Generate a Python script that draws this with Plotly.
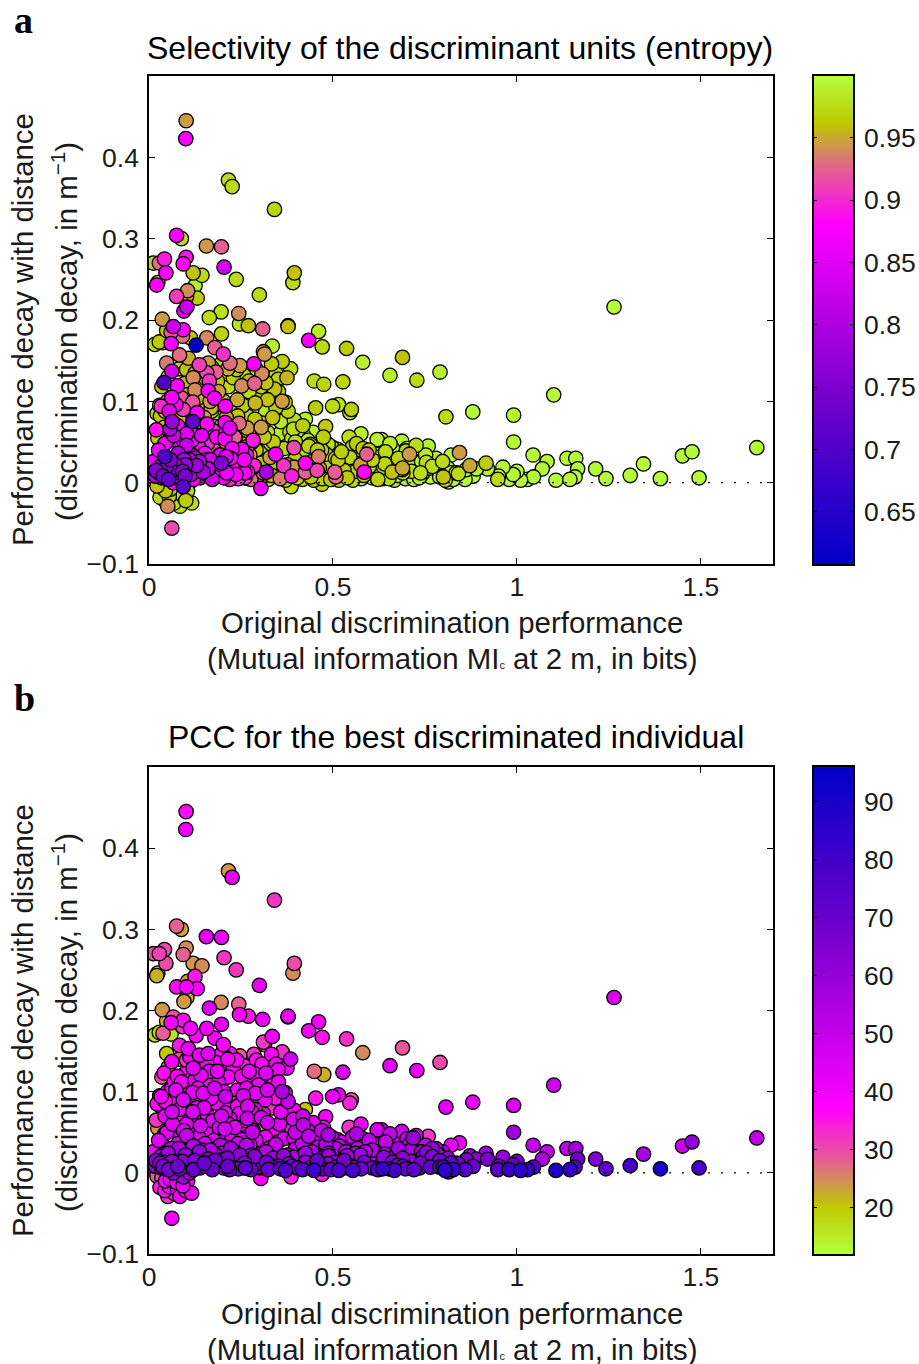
import numpy as np
import plotly.graph_objects as go

x_vals = [
 .101,.100,.216,.226,.341,.075,.088,.156,.197,.012,
 .028,.042,.101,.093,.204,.120,.144,.046,.237,.395,
 .391,.021,.024,.125,.105,.131,.102,.075,.300,.095,
 .103,.196,.164,.244,.246,.270,.309,.378,.378,.036,
 .048,.066,.093,.060,.091,.113,.157,.197,.461,.434,
 .471,.537,.028,.016,.038,.060,.128,.179,.335,.311,
 .581,.689,.655,.728,.791,.449,.475,.527,.314,.362,
 .285,.307,.287,.247,.220,.202,.083,.107,.137,.161,
 .048,.062,.182,.157,.102,.120,.164,.041,.077,.125,
 .161,.211,.229,.252,.345,.375,.385,.341,.297,.265,
 .362,.370,.062,.089,.050,.119,.178,.208,.093,.234,
 .279,.315,.453,.499,.515,.546,.550,.031,.130,.150,
 .210,.280,.336,.063,.119,.310,.395,.425,.020,.057,
 .078,.102,.162,.130,.197,.220,.245,.267,.305,.480,
 .383,.419,.355,.474,.487,.512,.544,.576,.564,.582,
 .627,.632,.655,.687,.718,.759,.708,.732,.754,.689,
 .641,.661,.765,.790,.690,.635,.592,.585,.575,.546,
 .530,.505,.461,.457,.425,.394,.366,.344,.319,.304,
 .388,.386,.470,.281,.252,.206,.197,.230,.260,.210,
 .161,.129,.120,.043,.012,.043,.102,.041,.091,.093,
 .003,.116,.051,.084,.062,.030,.055,.075,.045,.105,
 1.264,1.100,.807,.880,.991,.991,1.044,1.082,1.069,1.136,
 1.160,1.165,1.214,1.242,1.308,1.344,1.390,1.450,1.476,1.495,
 1.652,1.158,1.144,1.106,1.029,1.045,1.010,1.000,.979,.990,
 .948,.962,.950,.916,.920,.872,.890,.881,.859,.841,
 .844,.821,.800,.820,.814,.790,.770,.827,.805,.780,
 .302,.311,.324,.333,.349,.357,.371,.380,.394,.403,
 .417,.425,.440,.448,.463,.471,.486,.494,.508,.516,
 .531,.539,.554,.562,.577,.584,.599,.607,.622,.630,
 .645,.652,.667,.675,.690,.697,.713,.720,.735,.743,
 .306,.329,.350,.376,.397,.423,.443,.469,.488,.514,
 .535,.561,.580,.607,.626,.653,.672,.699,.718,.745,
 .316,.338,.367,.388,.417,.438,.467,.488,.517,.538,
 .567,.588,.617,.638,.667,.688,.717,.738,.763,.785,
 .018,.027,.034,.046,.053,.065,.071,.083,.089,.098,
 .106,.114,.121,.133,.139,.147,.155,.163,.172,.178,
 .186,.195,.203,.211,.219,.228,.236,.243,.252,.261,
 .268,.277,.285,.293,.026,.037,.049,.058,.067,.079,
 .086,.095,.108,.117,.126,.135,.143,.152,.159,.168,
 .176,.184,.192,.201,.209,.217,.226,.234,.242,.251,
 .259,.266,.274,.283,.291,.022,.033,.044,.055,.064,
 .073,.082,.094,.103,.112,.122,.131,.140,.149,.158,
 .166,.174,.183,.191,.200,.207,.216,.224,.233,.241,
 .030,.047,.061,.078,.090,.111,.127,.144,.165,.181,
 .199,.214,.231,.248,.262,.279,.296,.318,.337,.354,
 .024,.041,.056,.070,.087,.101,.118,.137,.156,.170,
 .190,.205,.222,.239,.255,.272,.289,.313,.331,.346,
 .035,.052,.068,.082,.097,.111,.126,.141,.154,.170,
 .186,.199,.214,.238,.258,.272,.292,.318,.333,.351,
 .029,.044,.058,.073,.088,.104,.117,.133,.147,.169,
 .189,.203,.216,.240,.256,.272,.289,.305,.322,.352,
 .268,.288,.322,.345,.358,.378,.393,.405,.418,.432,
 .398,.412,.434,.446,.458,.469,.481,.496,.507,.523,
 .535,.553,.568,.598,.612,.620,.643,.662,.678,.701,
 .712,.726,.741,.752,.770,.783,.798,.812,.835,.862,
 .019,.031,.038,.052,.063,.074,.081,.099,.110,.124,
 .137,.150,.167,.180,.194,.213,.222,.247,.265,.287,
 .035,.043,.058,.068,.078,.092,.100,.110,.022,.066,
]
y_vals = [
 .445,.423,.372,.364,.336,.304,.300,.291,.290,.270,
 .270,.275,.277,.269,.265,.258,.255,.258,.250,.258,
 .246,.243,.246,.242,.236,.227,.229,.229,.231,.211,
 .216,.210,.203,.208,.195,.193,.189,.193,.192,.201,
 .187,.192,.188,.185,.180,.178,.178,.183,.186,.175,
 .167,.165,.173,.170,.172,.171,.169,.166,.168,.161,
 .148,.154,.132,.126,.136,.125,.121,.124,.158,.149,
 .146,.134,.122,.144,.147,.158,.157,.153,.145,.147,
 .147,.137,.136,.135,.139,.129,.125,.123,.119,.114,
 .113,.134,.129,.119,.134,.129,.140,.115,.108,.104,
 .100,.099,.105,.104,.100,.099,.104,.094,.090,.089,
 .089,.090,.092,.094,.096,.086,.090,.082,.080,.080,
 .080,.075,.080,.075,.075,.073,.077,.078,.065,.066,
 .070,.060,.067,.070,.070,.067,.073,.067,.068,.069,
 .062,.059,.060,.056,.047,.041,.056,.060,.048,.042,
 .047,.053,.048,.051,.043,.045,.035,.034,.025,.018,
 .023,.013,.007,.007,.008,.005,.035,.013,.022,.031,
 .015,.013,.032,.015,.024,.043,.021,.035,.013,-.007,
 .008,-.005,-.002,.050,.041,.054,.024,.025,.012,.032,
 .017,.021,.033,.032,.026,.048,.046,.013,.014,-.005,
 .005,-.025,-.029,-.029,-.056,-.018,-.017,-.012,-.010,-.010,
 .216,.108,.081,.087,.083,.050,.034,.026,.017,.030,
 .030,.017,.017,.005,.009,.023,.005,.033,.038,.006,
 .043,.007,.004,.003,.004,.007,.003,.014,.004,.010,
 .004,.019,.008,.024,.017,.021,.017,.008,.004,.011,
 .037,.034,.007,.012,.001,.015,.020,.004,.003,.030,
 .006,.012,.004,.009,.016,.005,.003,.011,.019,.006,
 .004,.013,.007,.003,.018,.005,.011,.004,.007,.003,
 .012,.006,.003,.014,.005,.009,.020,.006,.004,.010,
 .016,.005,.003,.009,.012,.005,.014,.004,.006,.011,
 .024,.031,.038,.022,.029,.034,.026,.040,.021,.028,
 .036,.024,.033,.028,.037,.030,.022,.039,.027,.020,
 .044,.050,.042,.054,.036,.047,.040,.024,.033,.021,
 .030,.026,.035,.019,.028,.016,.025,.012,.018,.024,
 .008,.012,.006,.018,.004,.011,.022,.005,.016,.008,
 .025,.010,.004,.018,.006,.013,.028,.008,.004,.016,
 .009,.022,.006,.012,.004,.024,.010,.005,.017,.006,
 .013,.004,.021,.007,.040,.022,.050,.028,.058,.036,
 .045,.028,.038,.052,.030,.044,.058,.036,.048,.026,
 .040,.056,.034,.046,.062,.030,.042,.054,.036,.048,
 .028,.044,.034,.052,.040,.085,.094,.070,.088,.060,
 .096,.078,.052,.091,.066,.102,.086,.058,.093,.072,
 .100,.064,.086,.056,.096,.074,.060,.090,.056,.082,
 .012,.020,.030,.008,.024,.018,.010,.028,.012,.022,
 .016,.008,.020,.014,.006,.022,.012,.026,.018,.008,
 .055,.068,.080,.094,.063,.085,.072,.098,.059,.088,
 .052,.062,.058,.048,.052,.060,.044,.056,.048,.042,
 .118,.130,.112,.140,.122,.143,.135,.120,.128,.142,
 .125,.148,.140,.139,.132,.125,.139,.123,.146,.127,
 .095,.088,.098,.102,.112,.108,.116,.104,.098,.092,
 .112,.100,.118,.102,.095,.112,.098,.118,.102,.112,
 .082,.078,.062,.092,.075,.088,.066,.056,.070,.052,
 .050,.038,.045,.062,.040,.052,.035,.044,.030,.038,
 .026,.044,.034,.040,.032,.053,.038,.042,.030,.042,
 .028,.046,.026,.034,.030,.023,.026,.018,.012,.016,
 .015,.020,.008,.024,.014,.020,.030,.022,.028,.015,
 .026,.012,.028,.015,.034,.018,.030,.022,.034,.020,
 -.006,-.022,-.008,-.025,-.020,-.016,-.022,.000,-.004,.000,
]
entropy_vals = [
 .945,.880,.975,.975,.970,.875,.975,.945,.925,.975,
 .930,.895,.890,.885,.840,.960,.975,.880,.975,.960,
 .975,.880,.970,.990,.940,.965,.945,.910,.975,.850,
 .830,.980,.975,.940,.980,.960,.925,.960,.960,.945,
 .960,.830,.880,.920,.930,.960,.940,.970,.985,.875,
 .975,.965,.965,.975,.975,.870,.610,.925,.990,.945,
 .990,.960,.990,.975,.990,.975,.970,.970,.945,.965,
 .875,.940,.925,.945,.930,.905,.930,.950,.910,.945,
 .935,.840,.925,.915,.960,.940,.905,.700,.880,.940,
 .875,.965,.965,.940,.975,.955,.975,.960,.975,.975,
 .945,.965,.875,.920,.945,.920,.875,.875,.910,.975,
 .975,.985,.965,.975,.980,.975,.965,.960,.925,.950,
 .950,.970,.960,.780,.720,.965,.975,.990,.890,.800,
 .870,.850,.945,.920,.985,.855,.930,.945,.945,.965,
 .975,.985,.985,.965,.975,.990,.975,.990,.965,.965,
 .990,.990,.985,.990,.990,.990,.945,.990,.975,.950,
 .970,.960,.995,.985,.990,.975,.925,.885,.945,.970,
 .965,.925,.935,.915,.875,.915,.905,.875,.795,.870,
 .895,.975,.970,.940,.875,.875,.750,.870,.875,.850,
 .820,.780,.820,.700,.875,.875,.820,.770,.760,.710,
 .975,.975,.940,.975,.915,.975,.965,.975,.960,.970,
 .997,.996,.975,.995,.990,.995,.995,.995,.995,.995,
 .995,.995,.995,.997,.997,.997,.997,.995,.995,.995,
 .997,.995,.995,.997,.995,.995,.995,.995,.995,.995,
 .975,.995,.995,.965,.990,.950,.990,.995,.995,.975,
 .945,.995,.960,.990,.995,.995,.975,.995,.975,.985,
 .962,.925,.970,.955,.965,.935,.975,.960,.945,.965,
 .970,.925,.962,.970,.945,.965,.975,.962,.930,.970,
 .975,.965,.975,.970,.985,.960,.975,.990,.970,.985,
 .990,.975,.990,.985,.970,.990,.975,.990,.985,.990,
 .960,.945,.970,.955,.965,.975,.962,.970,.975,.965,
 .985,.975,.990,.970,.990,.985,.990,.975,.990,.990,
 .975,.965,.970,.975,.985,.970,.975,.985,.975,.990,
 .990,.985,.990,.975,.990,.970,.990,.975,.990,.990,
 .810,.780,.840,.760,.720,.800,.770,.830,.790,.750,
 .850,.800,.870,.820,.880,.790,.860,.880,.830,.875,
 .885,.870,.880,.860,.900,.880,.870,.905,.890,.910,
 .880,.930,.900,.945,.860,.820,.880,.760,.830,.800,
 .870,.785,.840,.880,.810,.890,.850,.875,.900,.860,
 .920,.885,.870,.930,.880,.905,.875,.925,.890,.940,
 .870,.925,.950,.895,.965,.975,.900,.965,.850,.925,
 .880,.960,.860,.925,.900,.965,.880,.920,.975,.885,
 .945,.900,.975,.915,.965,.880,.945,.975,.925,.960,
 .975,.960,.965,.975,.970,.980,.965,.975,.970,.965,
 .975,.965,.975,.960,.980,.965,.975,.970,.965,.960,
 .965,.960,.975,.955,.970,.965,.975,.960,.945,.970,
 .960,.975,.965,.950,.975,.960,.975,.965,.970,.975,
 .965,.970,.950,.975,.955,.965,.945,.975,.960,.970,
 .960,.975,.950,.965,.970,.955,.975,.960,.965,.970,
 .965,.955,.940,.970,.960,.950,.975,.960,.965,.955,
 .945,.965,.975,.950,.965,.975,.955,.970,.960,.965,
 .970,.960,.975,.965,.985,.970,.975,.990,.965,.985,
 .975,.985,.970,.990,.965,.985,.975,.990,.975,.965,
 .985,.975,.990,.965,.985,.990,.975,.990,.970,.990,
 .990,.975,.990,.985,.995,.990,.975,.995,.990,.995,
 .760,.800,.740,.790,.770,.820,.850,.780,.800,.830,
 .810,.860,.840,.880,.860,.880,.870,.905,.885,.915,
 .975,.985,.965,.975,.985,.975,.965,.985,.960,.880,
]
pcc_vals = [
 36,40,24,42,32,28,23,43,40,29,
 31,30,25,28,32,24,25,30,32,30,
 25,22,18,35,24,38,39,36,42,24,
 23,25,45,28,38,35,42,40,38,24,
 22,30,36,38,33,38,40,42,40,40,
 35,33,19,17,28,16,37,38,41,32,
 25,29,43,42,30,27,22,45,30,33,
 33,38,41,29,36,38,35,42,43,44,
 20,41,40,41,32,44,42,36,39,42,
 37,35,38,40,41,42,48,34,41,43,
 56,44,38,35,37,43,48,50,45,24,
 41,42,35,42,41,34,28,33,42,44,
 38,45,33,48,46,40,41,20,32,40,
 36,44,42,40,47,41,40,49,46,38,
 31,52,44,41,56,42,32,42,55,40,
 46,48,50,47,60,32,54,46,62,63,
 56,64,72,76,72,82,47,66,58,50,
 68,60,52,72,58,48,62,50,70,38,
 66,34,35,52,46,48,56,55,65,52,
 62,60,55,44,38,42,50,60,63,58,
 25,41,32,40,40,35,38,42,38,37,
 45,48,43,42,45,58,50,50,55,50,
 58,68,65,72,78,55,90,48,62,78,
 50,78,83,88,82,76,85,65,82,72,
 75,60,70,58,66,60,62,70,74,68,
 42,42,80,72,78,68,64,82,84,55,
 62,58,70,60,54,72,76,62,56,68,
 74,60,66,80,52,70,62,74,66,76,
 60,66,78,56,70,62,50,68,75,60,
 56,72,78,64,60,72,58,72,68,60,
 52,48,46,55,50,46,54,44,58,52,
 46,56,50,54,46,50,58,44,52,60,
 42,40,46,36,50,42,46,56,50,58,
 52,54,48,62,50,62,52,68,60,54,
 60,55,64,52,68,58,50,66,52,60,
 50,60,70,54,66,58,48,62,70,54,
 62,50,66,56,70,52,60,68,56,66,
 58,70,54,64,44,50,42,48,38,46,
 44,50,46,40,52,44,38,48,42,52,
 44,38,50,42,36,52,44,38,48,42,
 50,42,48,38,44,36,40,42,38,44,
 36,42,46,38,42,36,40,46,38,42,
 36,44,38,46,36,42,44,36,46,38,
 64,58,50,68,56,60,66,52,64,56,
 60,70,56,62,72,56,64,52,58,68,
 24,28,22,26,20,30,24,27,22,28,
 30,26,22,24,28,26,24,22,30,26,
 30,26,38,28,36,40,34,42,38,36,
 44,36,40,38,34,42,36,44,38,42,
 34,38,36,42,40,38,36,42,44,40,
 42,44,38,40,46,38,44,40,46,42,
 46,42,48,36,44,50,46,42,50,48,
 50,46,52,44,46,50,54,48,52,46,
 54,50,48,52,46,48,50,46,58,52,
 56,48,58,50,60,56,52,62,66,64,
 62,56,66,58,64,52,56,60,54,66,
 60,70,56,68,54,66,58,62,54,64,
 30,36,40,32,38,42,40,58,28,60,
]

x_tick_vals = [0, 0.5, 1, 1.5]
x_tick_text = ["0", "0.5", "1", "1.5"]
y_tick_vals = [-0.1, 0, 0.1, 0.2, 0.3, 0.4]
y_tick_text = ["\u22120.1", "0", "0.1", "0.2", "0.3", "0.4"]
entropy_ticks = [0.65, 0.7, 0.75, 0.8, 0.85, 0.9, 0.95]
entropy_labels = ["0.65", "0.7", "0.75", "0.8", "0.85", "0.9", "0.95"]
pcc_ticks = [20, 30, 40, 50, 60, 70, 80, 90]
zero_line_x = [0, 1.7]
zero_line_y = [0, 0]

entropy_range = [0.608, 0.9997]
pcc_range = [12.07, 96.0]
x_range = [0, 1.696]
y_range = [-0.1, 0.5]

stops = [0, .097, .14, .186, .30, .65, 1]
colors = ["#b4ff3c", "#bec800", "#cd9a46", "#e4648c", "#ff00ff", "#7800cd", "#0000c8"]
scale_pcc = [[s, c] for s, c in zip(stops, colors)]
scale_entropy = [[1 - s, c] for s, c in reversed(list(zip(stops, colors)))]

assert len(x_vals) == len(y_vals) == len(entropy_vals) == len(pcc_vals), (len(x_vals), len(y_vals), len(entropy_vals), len(pcc_vals))

W, H = 919, 1364
X = np.array(x_vals); Y = np.array(y_vals); E = np.array(entropy_vals); P = np.array(pcc_vals, float)

def dx(a, b): return [a / W, b / W]
def dy(top, bottom): return [1 - bottom / H, 1 - top / H]

fig = go.Figure()
FONT = "Liberation Sans, Arial, sans-serif"
TXT = "#1a1a1a"

def add_panel(n, vals, order, scale, rng):
    xa, ya = f"x{n}", f"y{n}"
    fig.add_trace(go.Scatter(
        x=X[order], y=Y[order], xaxis=xa, yaxis=ya, mode="markers", showlegend=False,
        marker=dict(size=14.4, color=vals[order], colorscale=scale, cmin=rng[0], cmax=rng[1],
                    showscale=False, line=dict(color="black", width=1.3), opacity=1)))
    fig.add_trace(go.Scatter(
        x=zero_line_x, y=zero_line_y, xaxis=xa, yaxis=ya, mode="lines", showlegend=False,
        line=dict(color="black", width=1.2, dash="2px,11px")))

def add_bar(n, rng, scale):
    xa, ya = f"x{n}", f"y{n}"
    levels = np.linspace(rng[0], rng[1], 256)
    fig.add_trace(go.Heatmap(
        z=levels.reshape(-1, 1), x=[0], y=levels, xaxis=xa, yaxis=ya,
        colorscale=scale, zmin=rng[0], zmax=rng[1], showscale=False, hoverinfo="skip"))

add_panel(1, E, np.argsort(-E, kind="stable"), scale_entropy, entropy_range)
add_panel(2, P, np.argsort(P, kind="stable"), scale_pcc, pcc_range)
add_bar(3, entropy_range, scale_entropy)
add_bar(4, pcc_range, scale_pcc)

axis_common = dict(showgrid=False, zeroline=False, showline=True, linecolor="black", linewidth=1.5,
                   mirror="ticks", ticks="inside", ticklen=6, tickwidth=1.2, tickcolor="black",
                   automargin=False, ticklabelstandoff=3,
                   tickfont=dict(family=FONT, size=26.5, color=TXT))
xaxis_common = {**axis_common, "ticklabelstandoff": -2}
bar_common = {**axis_common, "ticklen": 3, "ticklabelstandoff": 4}
px1 = dx(149, 773)
pxb = dx(814, 853)
dom_a = dy(76, 564)
dom_b = dy(767, 1254)

fig.update_layout(
    template="none",
    width=W, height=H, autosize=False, margin=dict(l=0, r=0, t=0, b=0, pad=0),
    paper_bgcolor="white", plot_bgcolor="white", showlegend=False,
    xaxis=dict(domain=px1, range=x_range, tickvals=x_tick_vals, ticktext=x_tick_text, anchor="y", **xaxis_common),
    yaxis=dict(domain=dom_a, range=y_range, tickvals=y_tick_vals, ticktext=y_tick_text, anchor="x", **axis_common),
    xaxis2=dict(domain=px1, range=x_range, tickvals=x_tick_vals, ticktext=x_tick_text, anchor="y2", **xaxis_common),
    yaxis2=dict(domain=dom_b, range=y_range, tickvals=y_tick_vals, ticktext=y_tick_text, anchor="x2", **axis_common),
    xaxis3=dict(domain=pxb, anchor="y3", showticklabels=False, ticks="", showline=True, linecolor="black",
                linewidth=1.5, mirror=True, showgrid=False, zeroline=False, automargin=False),
    yaxis3=dict(domain=dom_a, range=entropy_range, tickvals=entropy_ticks, ticktext=entropy_labels,
                anchor="x3", side="right", **bar_common),
    xaxis4=dict(domain=pxb, anchor="y4", showticklabels=False, ticks="", showline=True, linecolor="black",
                linewidth=1.5, mirror=True, showgrid=False, zeroline=False, automargin=False),
    yaxis4=dict(domain=dom_b, range=pcc_range, tickvals=pcc_ticks, anchor="x4", side="right", **bar_common),
)

def text(s, px, py, size, angle=0, family=FONT, color=TXT, xanchor="center"):
    fig.add_annotation(text=s, x=px / W, y=1 - py / H, xref="paper", yref="paper", showarrow=False,
                       textangle=angle, xanchor=xanchor, yanchor="middle",
                       font=dict(family=family, size=size, color=color))

for off in (0, 691):
    text("Original discrimination performance", 452, 622 + off, 29.4)
    text("(Mutual information MI<span style='font-size:11px'>c</span> at 2 m, in bits)", 452, 658 + off, 29.4)
    text("Performance decay with distance", 22, 330 + off, 29.4, angle=-90)
    text("(discrimination decay, in m<sup>\u22121</sup>)", 64, 332 + off, 29.4, angle=-90)

text("Selectivity of the discriminant units (entropy)", 460, 48, 32, color="black")
text("PCC for the best discriminated individual", 456, 737, 32, color="black")
text("<b>a</b>", 12, 20, 38, family="Liberation Serif", color="black", xanchor="left")
text("<b>b</b>", 12, 698, 38, family="Liberation Serif", color="black", xanchor="left")

fig.write_html("out.html", config={"displayModeBar": False}, post_script="document.body.style.margin='0';")
